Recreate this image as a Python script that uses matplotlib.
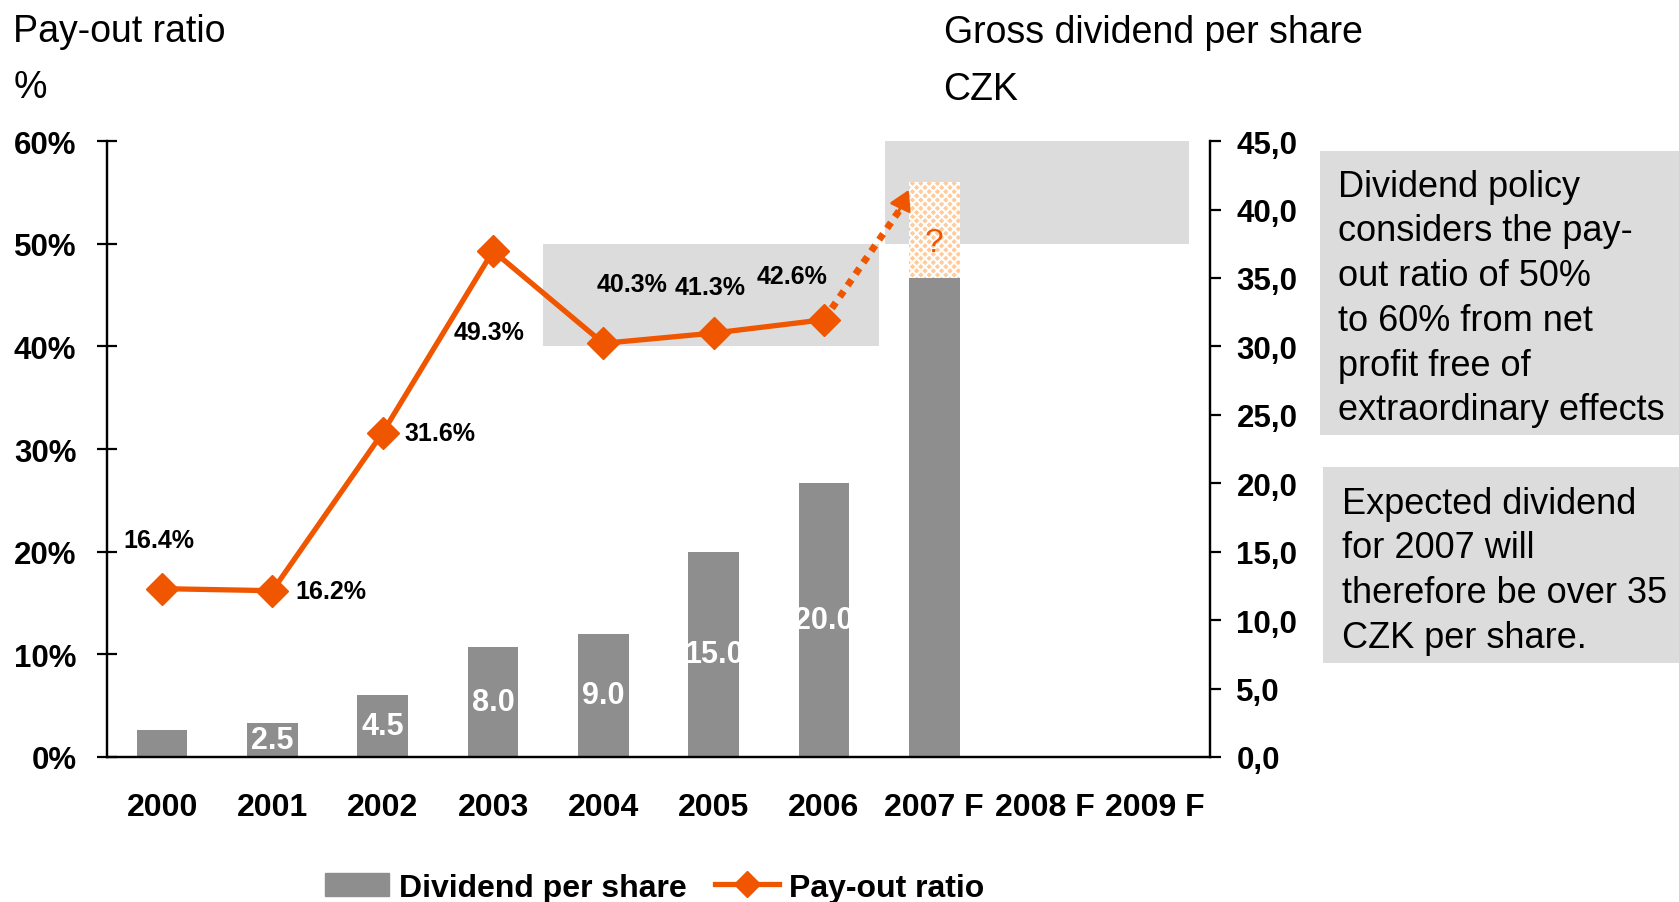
import matplotlib
matplotlib.use("Agg")
import matplotlib.pyplot as plt
from matplotlib import font_manager
from matplotlib.patches import Rectangle, Patch
from matplotlib.lines import Line2D

# data
years = ["2000", "2001", "2002", "2003", "2004", "2005", "2006", "2007 F", "2008 F", "2009 F"]
dividend = [2.0, 2.5, 4.5, 8.0, 9.0, 15.0, 20.0, 35.0]          # CZK per share
dividend_labels = ["", "2.5", "4.5", "8.0", "9.0", "15.0", "20.0", ""]
expected_top = 42.0                                             # hatched "?" part of 2007
payout = [16.4, 16.2, 31.6, 49.3, 40.3, 41.3, 42.6]             # %
payout_labels = ["16.4%", "16.2%", "31.6%", "49.3%", "40.3%", "41.3%", "42.6%"]
target_range = [50, 60]                                        # policy pay-out range, %

ORANGE = "#F05500"
GREY = "#8E8E8E"
BOX = "#DCDCDC"

names = {f.name for f in font_manager.fontManager.ttflist}
NARROW = "Liberation Sans Narrow" if "Liberation Sans Narrow" in names else "Liberation Sans"
plt.rcParams["font.family"] = ["Liberation Sans", "DejaVu Sans"]
plt.rcParams["hatch.linewidth"] = 1.5

fig = plt.figure(figsize=(16.79, 9.03), dpi=100)
ax = fig.add_axes([0.0637, 0.1606, 0.657, 0.682])   # bars, right axis
ax2 = ax.twinx()                                     # pay-out ratio, left axis

x = list(range(len(years)))
ax.set_xlim(-0.5, 9.5)
ax.set_ylim(0, 45)
ax2.set_ylim(0, 60)

# grey highlight boxes (drawn in bar-axis units: 45 CZK == 60 %)
k = 45 / 60
ax.add_patch(Rectangle((3.45, 40 * k), 3.05, 10 * k, color=BOX, lw=0, zorder=0))
ax.add_patch(Rectangle((6.55, target_range[0] * k), 2.76, (target_range[1] - target_range[0]) * k,
                       color=BOX, lw=0, zorder=0))

bw = 0.46
ax.bar(x[:len(dividend)], dividend, width=bw, color=GREY, zorder=2)
ax.bar(x[7], expected_top - dividend[7], bottom=dividend[7], width=bw,
       facecolor="#FFCB9A", edgecolor="white", hatch="xxxx", lw=0, zorder=2)
ax.text(x[7], 37.6, "?", color=ORANGE, fontsize=24, ha="center", va="center", zorder=3)

for i, (v, lab) in enumerate(zip(dividend, dividend_labels)):
    if lab:
        ax.text(x[i], v / 2, lab, color="white", fontsize=22, fontweight="bold",
                family=NARROW, ha="center", va="center", zorder=3)

# pay-out ratio line
ax2.plot(x[:len(payout)], payout, color=ORANGE, lw=3.8, marker="D", markersize=16,
         zorder=4, clip_on=False)
ax2.plot([x[6], 6.68], [payout[6], 53.2], color=ORANGE, lw=5, linestyle=(0, (1, 1)),
         zorder=4)
ax2.annotate("", xy=(6.78, 55.5), xytext=(6.66, 52.8),
             arrowprops=dict(arrowstyle="-|>,head_length=1.2,head_width=0.7",
                             color=ORANGE, lw=2), zorder=4)

lab_pos = [(-0.03, 21.1, "center"), (1.21, 16.2, "left"), (2.2, 31.6, "left"),
           (2.96, 41.4, "center"), (4.26, 46.1, "center"), (4.97, 45.8, "center"),
           (5.71, 46.9, "center")]
for (lx, ly, ha), lab in zip(lab_pos, payout_labels):
    ax2.text(lx, ly, lab, fontsize=18, fontweight="bold", ha=ha, va="center", zorder=5)

# axes styling
ax2.yaxis.tick_left()
ax.yaxis.tick_right()
ax2.set_yticks(range(0, 61, 10))
ax2.set_yticklabels([f"{v}%" for v in range(0, 61, 10)])
ax.set_yticks(range(0, 46, 5))
ax.set_yticklabels([f"{v},0" for v in range(0, 46, 5)])
ax.set_xticks(x)
ax.set_xticklabels(years)
for a in (ax, ax2):
    a.spines["top"].set_visible(False)
    for s in ("left", "right", "bottom"):
        a.spines[s].set_linewidth(1.6)
ax.tick_params(axis="x", length=0, pad=25)
ax.tick_params(axis="y", direction="out", length=8, width=1.6, pad=11)
ax2.tick_params(axis="y", direction="inout", length=14, width=1.6, pad=15)
for t in ax.get_xticklabels():
    t.set_family(NARROW)
    t.set_fontweight("bold")
    t.set_fontsize(23)
for t in ax.get_yticklabels() + ax2.get_yticklabels():
    t.set_family(NARROW)
    t.set_fontweight("bold")
    t.set_fontsize(22.5)

# axis titles
fig.text(0.008, 0.965, "Pay-out ratio", fontsize=27, va="center")
fig.text(0.008, 0.902, "%", fontsize=27, va="center")
fig.text(0.562, 0.964, "Gross dividend per share", fontsize=27, va="center")
fig.text(0.562, 0.900, "CZK", fontsize=27, va="center")

# comment boxes on the right
fig.add_artist(Rectangle((0.786, 0.517), 0.214, 0.315, transform=fig.transFigure,
                         color=BOX, lw=0))
fig.add_artist(Rectangle((0.788, 0.2647), 0.212, 0.217, transform=fig.transFigure,
                         color=BOX, lw=0))
fig.text(0.797, 0.812, "Dividend policy\nconsiders the pay-\nout ratio of 50%\n"
         "to 60% from net\nprofit free of\nextraordinary effects",
         fontsize=26, va="top", linespacing=1.36)
fig.text(0.799, 0.461, "Expected dividend\nfor 2007 will\ntherefore be over 35\nCZK per share.",
         fontsize=26, va="top", linespacing=1.36)

# legend
handles = [Patch(color=GREY, label="Dividend per share"),
           Line2D([], [], color=ORANGE, lw=3.8, marker="D", markersize=13, label="Pay-out ratio")]
fig.legend(handles=handles, loc="center", bbox_to_anchor=(0.39, 0.016), ncol=2, frameon=False,
           prop=dict(family=NARROW, weight="bold", size=23), handlelength=2.0,
           handletextpad=0.3, columnspacing=0.9, borderaxespad=0)

fig.savefig("out.png", dpi=100)
